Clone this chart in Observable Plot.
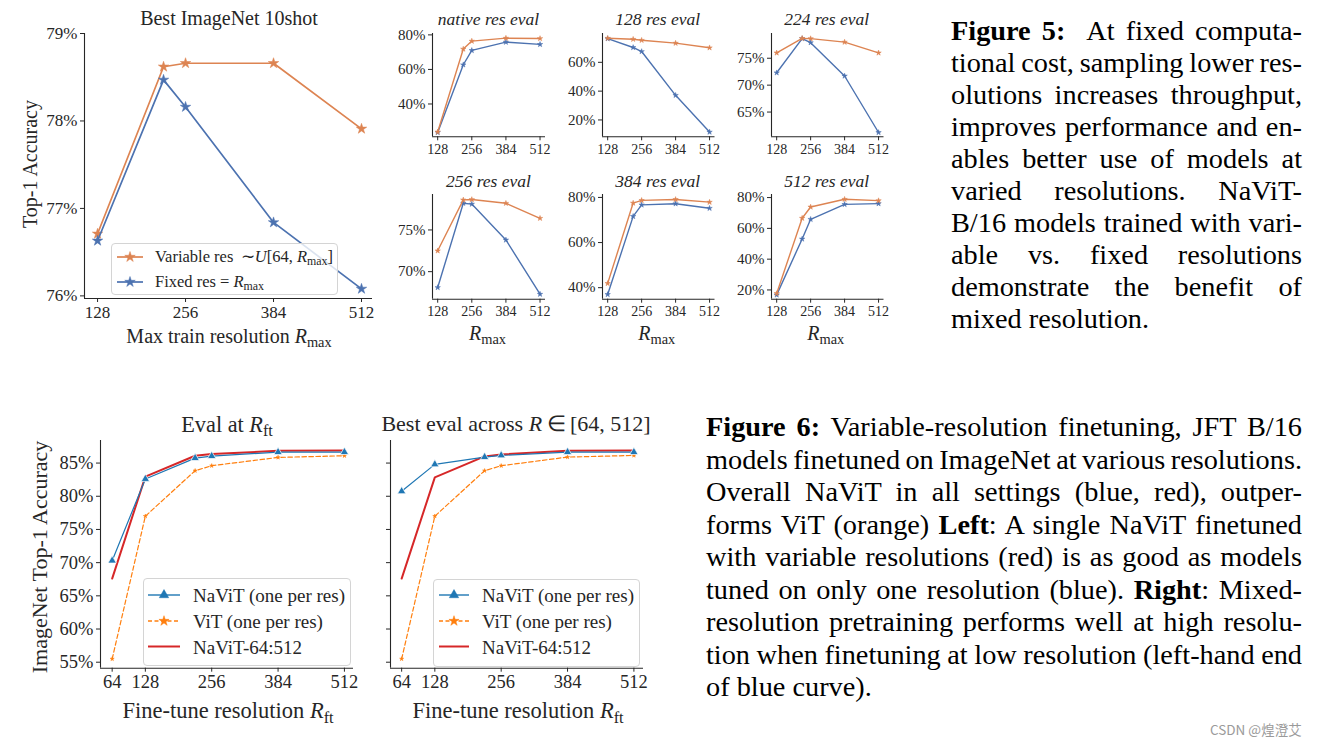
<!DOCTYPE html>
<html><head><meta charset="utf-8">
<script src="https://cdn.jsdelivr.net/npm/d3@7"></script>
<script src="https://cdn.jsdelivr.net/npm/@observablehq/plot@0.6"></script>
<style>
html,body{margin:0;padding:0;background:#fff;}
#root{position:relative;width:1326px;height:745px;overflow:hidden;background:#fff;}
.cap{position:absolute;font-family:'Liberation Serif','Times New Roman',serif;color:#000;}
.cap div{white-space:nowrap;text-align:left;}
.cap div.just{text-align:justify;text-align-last:justify;}
</style></head>
<body><div id="root"></div>
<script>
// ---------- data ----------
const trainRes = [128, 224, 256, 384, 512];
const trainTicks = [128, 256, 384, 512];
const bestVariable = [76.71, 78.62, 78.66, 78.66, 77.91];
const bestFixed = [76.63, 78.47, 78.16, 76.84, 76.08];
const bestYTicks = [76, 77, 78, 79];

const evalTitles = ["native res eval", "128 res eval", "224 res eval", "256 res eval", "384 res eval", "512 res eval"];
const evalVariable = [
  [23.8, 71.8, 76.4, 78.1, 77.9],
  [76.7, 76.0, 75.3, 73.3, 70.1],
  [76.0, 78.7, 78.65, 78.0, 76.0],
  [72.5, 78.6, 78.65, 78.2, 76.4],
  [41.9, 77.5, 78.7, 79.1, 77.9],
  [17.7, 66.6, 73.9, 78.9, 78.0]
];
const evalFixed = [
  [23.5, 62.7, 71.0, 75.8, 74.5],
  [76.4, 70.3, 67.5, 37.1, 11.6],
  [72.3, 78.65, 77.9, 71.7, 61.2],
  [68.1, 78.2, 78.1, 73.8, 67.3],
  [37.0, 71.6, 76.7, 77.2, 75.2],
  [16.8, 53.1, 65.9, 75.6, 76.1]
];
const evalYTicks = [[40, 60, 80], [20, 40, 60], [65, 70, 75], [70, 75], [40, 60, 80], [20, 40, 60, 80]];
const evalYDomains = [[21, 80.8], [8.3, 80.0], [60.4, 79.6], [66.7, 79.25], [34.9, 81.3], [14, 82]];

const ftRes = [64, 128, 224, 256, 384, 512];
const ftTicks = [64, 128, 256, 384, 512];
const ftYTicks = [55, 60, 65, 70, 75, 80, 85];
const navitEvalAt = [70.3, 82.6, 85.75, 86.05, 86.65, 86.65];
const vitEvalAt = [55.5, 77.0, 83.85, 84.6, 85.85, 86.1];
const mixEvalAt = [67.6, 82.95, 86.1, 86.35, 86.85, 86.9];
const navitBest = [80.75, 84.8, 85.9, 86.15, 86.65, 86.65];
const vitBest = [55.5, 77.0, 83.85, 84.6, 85.9, 86.15];
const mixBest = [67.6, 82.85, 86.0, 86.3, 86.85, 86.9];

const fig5Lines = [
  "<b>Figure 5:</b>&nbsp; At fixed computa-",
  "tional cost, sampling lower res-",
  "olutions increases throughput,",
  "improves performance and en-",
  "ables better use of models at",
  "varied resolutions. NaViT-",
  "B/16 models trained with vari-",
  "able vs. fixed resolutions",
  "demonstrate the benefit of",
  "mixed resolution."
];
const fig6Lines = [
  "<b>Figure 6:</b> Variable-resolution finetuning, JFT B/16",
  "models finetuned on ImageNet at various resolutions.",
  "Overall NaViT in all settings (blue, red), outper-",
  "forms ViT (orange) <b>Left</b>: A single NaViT finetuned",
  "with variable resolutions (red) is as good as models",
  "tuned on only one resolution (blue). <b>Right</b>: Mixed-",
  "resolution pretraining performs well at high resolu-",
  "tion when finetuning at low resolution (left-hand end",
  "of blue curve)."
];

// ---------- styling ----------
const FONT = "'Liberation Serif','Times New Roman',serif";
const INK = "#262626";
const ORANGE = "#dd8452", BLUE = "#4c72b0";
const T_BLUE = "#1f77b4", T_ORANGE = "#ff7f0e", T_RED = "#d62728";
const root = document.getElementById("root");
const NS = "http://www.w3.org/2000/svg";

function place(el, left, top) {
  el.style.position = "absolute";
  el.style.left = left + "px";
  el.style.top = top + "px";
  root.appendChild(el);
}

function panel(cfg) {
  const mL = 60, mR = 16, mT = 14, mB = 34;
  const fw = cfg.right - cfg.left, fh = cfg.bottom - cfg.top;
  const marks = [
    Plot.ruleX([cfg.xDomain[0]], {stroke: INK, strokeWidth: 1.1}),
    Plot.ruleY([cfg.yDomain[0]], {stroke: INK, strokeWidth: 1.1}),
    Plot.axisX(cfg.xTicks, {tickSize: 4, tickPadding: 3, label: null, fontSize: cfg.fs, tickFormat: d => String(d)}),
    Plot.axisY(cfg.yTicks, {tickSize: 4, tickPadding: 3, label: null, fontSize: cfg.fsY || cfg.fs, tickFormat: cfg.yFormat})
  ];
  for (const s of cfg.series) {
    const rows = cfg.xs.map((x, i) => ({x, y: s.values[i]}));
    marks.push(Plot.line(rows, {x: "x", y: "y", stroke: s.color, strokeWidth: s.width, strokeDasharray: s.dash}));
    if (s.symbol) marks.push(Plot.dot(rows, {x: "x", y: "y", symbol: s.symbol, r: s.r, fill: s.color, stroke: s.edge || s.color, strokeWidth: s.edgeWidth || 0.5}));
  }
  const svg = Plot.plot({
    width: fw + mL + mR, height: fh + mT + mB,
    marginLeft: mL, marginRight: mR, marginTop: mT, marginBottom: mB,
    x: {type: "linear", domain: cfg.xDomain},
    y: {type: "linear", domain: cfg.yDomain},
    marks,
    style: {fontFamily: FONT, fontSize: cfg.fs + "px", color: INK, background: "transparent", overflow: "visible"}
  });
  place(svg, cfg.left - mL, cfg.top - mT);
}

function label(html, cx, cy, size, opt = {}) {
  const d = document.createElement("div");
  d.innerHTML = html;
  Object.assign(d.style, {
    position: "absolute", left: cx + "px", top: cy + "px",
    transform: "translate(-50%,-50%)" + (opt.rotate ? " rotate(-90deg)" : ""),
    fontFamily: FONT, fontSize: size + "px", fontStyle: opt.italic ? "italic" : "normal",
    color: opt.color || INK, whiteSpace: "nowrap", lineHeight: "1"
  });
  root.appendChild(d);
}
const sub = s => `<span style="font-size:0.72em;position:relative;top:0.28em;font-style:normal">${s}</span>`;
const R = s => `<i>R</i>${sub(s)}`;

function legend(box, items, fs) {
  const b = document.createElement("div");
  Object.assign(b.style, {position: "absolute", left: box.left + "px", top: box.top + "px", width: box.w + "px", height: box.h + "px",
    border: "1px solid #d4d4d4", borderRadius: "4px", background: "rgba(255,255,255,0.8)", boxSizing: "border-box"});
  root.appendChild(b);
  const svg = document.createElementNS(NS, "svg");
  svg.setAttribute("width", box.w); svg.setAttribute("height", box.h);
  Object.assign(svg.style, {position: "absolute", left: box.left + "px", top: box.top + "px", overflow: "visible"});
  root.appendChild(svg);
  for (const it of items) {
    const y = it.y - box.top;
    const ln = document.createElementNS(NS, "line");
    ln.setAttribute("x1", it.x0 - box.left); ln.setAttribute("x2", it.x1 - box.left);
    ln.setAttribute("y1", y); ln.setAttribute("y2", y);
    ln.setAttribute("stroke", it.color); ln.setAttribute("stroke-width", it.width);
    if (it.dash) ln.setAttribute("stroke-dasharray", it.dash);
    svg.appendChild(ln);
    if (it.symbol) {
      const p = document.createElementNS(NS, "path");
      const type = it.symbol === "star" ? d3.symbolStar : d3.symbolTriangle;
      p.setAttribute("d", d3.symbol(type, Math.PI * it.r * it.r)());
      p.setAttribute("transform", `translate(${(it.x0 + it.x1) / 2 - box.left},${y})`);
      p.setAttribute("fill", it.color);
      p.setAttribute("stroke", it.edge || it.color);
      p.setAttribute("stroke-width", it.edgeWidth || 0.5);
      svg.appendChild(p);
    }
    const t = document.createElement("div");
    t.innerHTML = it.html;
    Object.assign(t.style, {position: "absolute", left: it.tx + "px", top: it.y + "px", transform: "translateY(-50%)",
      fontFamily: FONT, fontSize: fs + "px", color: INK, whiteSpace: "nowrap", lineHeight: "1"});
    root.appendChild(t);
  }
}

// ---------- Figure 5: main panel ----------
panel({
  left: 84, top: 33, right: 372, bottom: 298,
  xDomain: [109, 528], yDomain: [75.97, 79.0],
  xs: trainRes, xTicks: trainTicks, yTicks: bestYTicks, yFormat: d => d + "%", fs: 17,
  series: [
    {values: bestVariable, color: ORANGE, width: 1.7, symbol: "star", r: 3.3},
    {values: bestFixed, color: BLUE, width: 1.7, symbol: "star", r: 3.3}
  ]
});
label("Best ImageNet 10shot", 229, 18, 20);
label("Top-1 Accuracy", 30, 164, 20, {rotate: true});
label("Max train resolution " + R("max"), 229, 336, 20);
legend({left: 111, top: 243, w: 227, h: 52}, [
  {y: 257, x0: 117, x1: 143, color: ORANGE, width: 1.7, symbol: "star", r: 3.3, tx: 155, html: "Variable res &thinsp;∼<i>U</i>[64, " + R("max") + "]"},
  {y: 282, x0: 117, x1: 143, color: BLUE, width: 1.7, symbol: "star", r: 3.3, tx: 155, html: "Fixed res = " + R("max")}
], 16.5);

// ---------- Figure 5: six small panels ----------
const smallLefts = [432, 601.5, 770.5];
const smallRights = [545, 714, 883];
const rowTops = [32.7, 194];
const rowBottoms = [136, 298.7];
const titleY = [20, 182];
for (let k = 0; k < 6; k++) {
  const row = Math.floor(k / 3), col = k % 3;
  panel({
    left: smallLefts[col], top: rowTops[row], right: smallRights[col], bottom: rowBottoms[row],
    xDomain: [108.5, 532.5], yDomain: evalYDomains[k],
    xs: trainRes, xTicks: trainTicks, yTicks: evalYTicks[k], yFormat: d => d + "%", fs: 14, fsY: 15,
    series: [
      {values: evalFixed[k], color: BLUE, width: 1.4, symbol: "star", r: 1.7},
      {values: evalVariable[k], color: ORANGE, width: 1.4, symbol: "star", r: 1.7}
    ]
  });
  const cx = (smallLefts[col] + smallRights[col]) / 2;
  label(evalTitles[k], cx, titleY[row], 17.5, {italic: true});
  if (row === 1) label(R("max"), cx - 1, 333, 20);
}

// ---------- Figure 6 panels ----------
const ftSeries = (navit, vit, mix) => [
  {values: vit, color: T_ORANGE, width: 1.2, dash: "4.5,2.5", symbol: "star", r: 1.3},
  {values: mix, color: T_RED, width: 2},
  {values: navit, color: T_BLUE, width: 1.2, symbol: "triangle", r: 3.1, edge: "#ffffff", edgeWidth: 0.7}
];
panel({
  left: 100, top: 440, right: 353, bottom: 667.7,
  xDomain: [41.5, 529.5], yDomain: [54.1, 88.4],
  xs: ftRes, xTicks: ftTicks, yTicks: ftYTicks, yFormat: d => d + "%", fs: 18.5,
  series: ftSeries(navitEvalAt, vitEvalAt, mixEvalAt)
});
panel({
  left: 390, top: 440, right: 643, bottom: 667.7,
  xDomain: [42.5, 530.5], yDomain: [54.1, 88.4],
  xs: ftRes, xTicks: ftTicks, yTicks: ftYTicks, yFormat: () => "", fs: 18.5,
  series: ftSeries(navitBest, vitBest, mixBest)
});
label("Eval at " + R("ft"), 227, 425, 22.3);
label("Best eval across <i>R</i>&thinsp;∈&thinsp;[64, 512]", 516, 424, 22);
label("Fine-tune resolution " + R("ft"), 228, 711, 22.5);
label("Fine-tune resolution " + R("ft"), 518, 711, 22.5);
label("ImageNet Top-1 Accuracy", 40, 557, 22, {rotate: true});

const ftLegendItems = (x0, x1, tx) => [
  {y: 595, x0, x1, color: T_BLUE, width: 1.4, symbol: "triangle", r: 3.5, edge: T_BLUE, tx, html: "NaViT (one per res)"},
  {y: 621, x0, x1, color: T_ORANGE, width: 1.4, dash: "4,2.5", symbol: "star", r: 3.2, tx, html: "ViT (one per res)"},
  {y: 646.5, x0, x1, color: T_RED, width: 2, tx, html: "NaViT-64:512"}
];
legend({left: 143, top: 578, w: 208, h: 88}, ftLegendItems(148, 180, 193), 19);
legend({left: 433, top: 579, w: 207, h: 88}, ftLegendItems(439, 469, 482), 19);

// ---------- captions (lines justified; spaces shrink like TeX when a line is too long) ----------
function caption(lines, left, top, width, fs, lh) {
  const c = document.createElement("div");
  c.className = "cap";
  Object.assign(c.style, {left: left + "px", top: top + "px", width: width + "px", fontSize: fs + "px", lineHeight: lh + "px"});
  root.appendChild(c);
  lines.forEach((l, i) => {
    const d = document.createElement("div");
    const s = document.createElement("span");
    s.innerHTML = l;
    d.appendChild(s);
    c.appendChild(d);
    const natural = s.getBoundingClientRect().width;
    const spaces = (s.textContent.match(/\s/g) || []).length;
    if (natural > width - 1 && spaces > 0) {
      d.style.wordSpacing = (-(natural - width + 2) / spaces) + "px";
    }
    if (i < lines.length - 1) d.className = "just";
  });
}
caption(fig5Lines, 951, 14.5, 351, 28.3, 32.1);
caption(fig6Lines, 706, 411, 596, 28.3, 32.5);

// watermark
const wm = document.createElement("div");
wm.textContent = "CSDN @煌澄艾";
Object.assign(wm.style, {position: "absolute", left: "1210px", top: "720px", fontFamily: "'Noto Sans CJK SC','Noto Sans',sans-serif",
  fontSize: "13.5px", color: "#9a9a9a", whiteSpace: "nowrap", lineHeight: "18px"});
root.appendChild(wm);
</script>
</body></html>
